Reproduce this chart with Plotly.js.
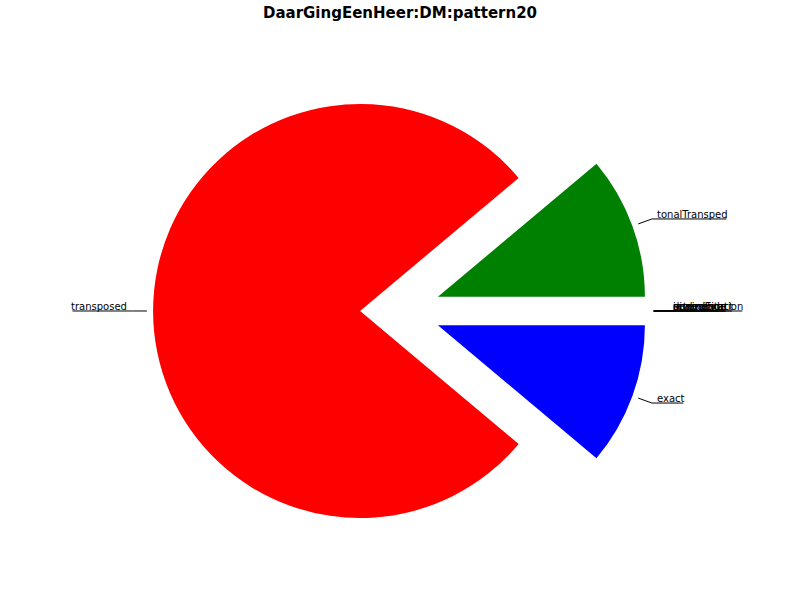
<!DOCTYPE html>
<html>
<head>
<meta charset="utf-8">
<script src="https://cdn.plot.ly/plotly-3.0.1.min.js"></script>
<style>html,body{margin:0;padding:0;background:#fff;}#chart{width:800px;height:600px;}</style>
</head>
<body>
<div id="chart"></div>
<script>
// ---- data (clockwise from 3 o'clock) ----
const labels = ["exact", "transposed", "tonalTransped", "inversion", "retrograde", "augmentation", "diminution", "scaledExact"];
const values = [1, 7, 1, 0, 0, 0, 0, 0];
const colors = ["#0000ff", "#ff0000", "#008000", "#00bfbf", "#bf00bf", "#bfbf00", "#000000", "#ffffff"];
const pulls = [0.2, 0.188, 0.2, 0.2, 0.2, 0.2, 0.2, 0.2];
const chartTitle = "DaarGingEenHeer:DM:pattern20";

// ---- layout constants ----
const W = 800, H = 600;
const domX = [0.18825, 0.80925];
const domY = [0.06767, 0.89567];
const FONT = "DejaVu Sans";

// pie geometry as Plotly computes it
const maxPull = Math.max(...pulls);
const boxW = W * (domX[1] - domX[0]), boxH = H * (domY[1] - domY[0]);
const R = Math.min(boxW / 2, boxH / 2) / (1 + maxPull);
const cx = W * (domX[0] + domX[1]) / 2;
const cy = H * (1 - domY[0]) - boxH / 2;

const total = values.reduce((a, b) => a + b, 0);
const ctx = document.createElement("canvas").getContext("2d");
ctx.font = "10px '" + FONT + "'";

const shapes = [], annotations = [];
let cum = 0;
labels.forEach((lab, i) => {
  const mid = -(cum + values[i] / 2) / total * 2 * Math.PI; // math angle
  cum += values[i];
  const dx = Math.cos(mid), dy = -Math.sin(mid);
  const sx = cx + pulls[i] * R * dx, sy = cy + pulls[i] * R * dy;
  const p1 = [sx + 1.03 * R * dx, sy + 1.03 * R * dy];
  const p2 = [sx + 1.1 * R * dx, sy + 1.1 * R * dy];
  const w = ctx.measureText(lab).width;
  const right = dx >= -1e-9;
  const tx = right ? p2[0] + 4 : p2[0] - 4;
  const far = right ? tx + w : tx - w;
  const line = (a, b) => shapes.push({type: "line", xref: "paper", yref: "paper",
    x0: a[0] / W, y0: 1 - a[1] / H, x1: b[0] / W, y1: 1 - b[1] / H,
    line: {color: "#000", width: 1}});
  line(p1, p2);
  line(p2, [far, p2[1]]);
  annotations.push({xref: "paper", yref: "paper", x: tx / W, y: 1 - p2[1] / H,
    xanchor: right ? "left" : "right", yanchor: "bottom", showarrow: false,
    borderpad: 0, yshift: -2, text: lab, font: {family: FONT, size: 10, color: "#000"}});
});

const trace = {
  type: "pie", labels: labels, values: values, sort: false,
  direction: "clockwise", rotation: 90,
  pull: pulls,
  marker: {colors: colors, line: {width: 0}},
  textinfo: "none", hoverinfo: "label+value",
  domain: {x: domX, y: domY}
};

const layout = {
  width: W, height: H, showlegend: false,
  margin: {l: 0, r: 0, t: 0, b: 0},
  paper_bgcolor: "#fff", plot_bgcolor: "#fff",
  title: {text: chartTitle, x: 0.5, xanchor: "center", xref: "paper",
    y: 1 - 12.5 / H, yref: "container", yanchor: "middle",
    font: {family: FONT, size: 15, color: "#000", weight: "bold"}},
  shapes: shapes, annotations: annotations
};

Plotly.newPlot("chart", [trace], layout, {displayModeBar: false, staticPlot: true});
</script>
</body>
</html>
